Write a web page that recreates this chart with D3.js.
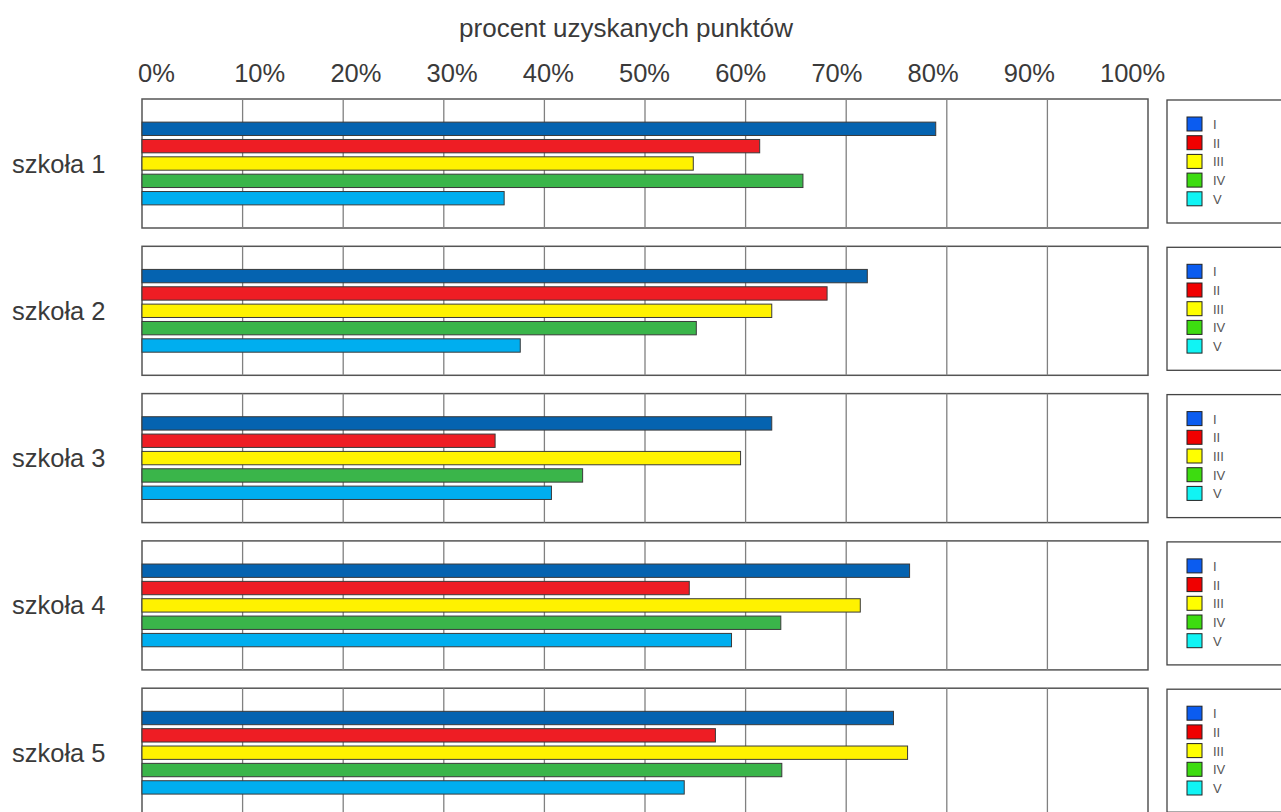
<!DOCTYPE html>
<html>
<head>
<meta charset="utf-8">
<script src="https://cdn.jsdelivr.net/npm/d3@7"></script>
<style>
  body { margin: 0; background: white; }
  svg { display: block; font-family: "Liberation Sans", Arial, sans-serif; }
  text { fill: #3a3a3a; }
</style>
</head>
<body>
<svg id="chart" width="1281" height="812"></svg>
<script>
let schools = ['szkoła 1', 'szkoła 2', 'szkoła 3', 'szkoła 4', 'szkoła 5'];
let groups = ['I', 'II', 'III', 'IV', 'V'];
// percent of points, one array per group, in school order
let valuesI = [78.9, 72.1, 62.6, 76.3, 74.7];
let valuesII = [61.4, 68.1, 35.1, 54.4, 57.0];
let valuesIII = [54.8, 62.6, 59.5, 71.4, 76.1];
let valuesIV = [65.7, 55.1, 43.8, 63.5, 63.6];
let valuesV = [36.0, 37.6, 40.7, 58.6, 53.9];
let tickValues = [0, 10, 20, 30, 40, 50, 60, 70, 80, 90, 100];
let axisTitle = 'procent uzyskanych punktów';

let barColors = ['#0563b0', '#ee1d24', '#fff200', '#3ab54a', '#00aeef'];
let legendColors = ['#0b5cf0', '#f00000', '#ffff00', '#3ddc10', '#10f4f4'];

let seriesValues = [valuesI, valuesII, valuesIII, valuesIV, valuesV];

let svg = d3.select('#chart');

let x = d3.scaleLinear().domain([0, 100]).range([142, 1148]);
// tick labels sit on their own, slightly narrower, left-aligned scale
let xLabel = d3.scaleLinear().domain([0, 100]).range([138, 1100]);

let panelH = 129;
let panelStep = 147.3;
let y = d3.scaleBand()
    .domain(schools)
    .range([99, 99 + 4 * panelStep + panelH])
    .paddingInner(1 - panelH / panelStep)
    .paddingOuter(0);

let barPitch = 17.35;
let yBar = d3.scaleBand()
    .domain(groups)
    .range([panelH / 2 - 2.5 * barPitch, panelH / 2 + 2.5 * barPitch])
    .paddingInner(0.23)
    .paddingOuter(0.115);

svg.append('text')
    .attr('x', 626)
    .attr('y', 37)
    .attr('text-anchor', 'middle')
    .style('font-size', '26px')
    .text(axisTitle);

svg.append('g')
    .selectAll('text')
    .data(tickValues)
    .join('text')
    .attr('x', d => xLabel(d))
    .attr('y', 82)
    .style('font-size', '25.5px')
    .text(d => d + '%');

let panels = svg.selectAll('g.panel')
    .data(schools)
    .join('g')
    .attr('class', 'panel')
    .attr('transform', d => 'translate(0,' + y(d) + ')');

panels.append('rect')
    .attr('x', x(0))
    .attr('y', 0)
    .attr('width', x(100) - x(0))
    .attr('height', y.bandwidth())
    .attr('fill', 'white')
    .attr('stroke', '#555')
    .attr('stroke-width', 1.5);

panels.selectAll('line.grid')
    .data(tickValues.filter(t => t > 0 && t < 100))
    .join('line')
    .attr('class', 'grid')
    .attr('x1', d => x(d))
    .attr('x2', d => x(d))
    .attr('y1', 0)
    .attr('y2', y.bandwidth())
    .attr('stroke', '#808080')
    .attr('stroke-width', 1.3);

// Bars: one per group, values taken from the series arrays by school index.
panels.selectAll('rect.bar')
    .data((school, i) => groups.map((g, j) => ({group: g, idx: j, value: seriesValues[j][i]})))
    .join('rect')
    .attr('class', 'bar')
    .attr('x', x(0))
    .attr('y', d => yBar(d.group))
    .attr('width', d => x(d.value) - x(0))
    .attr('height', yBar.bandwidth())
    .attr('fill', d => barColors[d.idx])
    .attr('stroke', '#3a3a3a')
    .attr('stroke-width', 1);

panels.append('text')
    .attr('x', 12)
    .attr('y', y.bandwidth() / 2 + 9)
    .style('font-size', '25.5px')
    .text(d => d);

// Legend box next to every panel.
let legend = panels.append('g')
    .attr('transform', 'translate(1167,1)');

legend.append('rect')
    .attr('width', 140)
    .attr('height', 123)
    .attr('fill', 'white')
    .attr('stroke', '#444')
    .attr('stroke-width', 1.3);

let legendItems = legend.selectAll('g.item')
    .data(groups)
    .join('g')
    .attr('class', 'item')
    .attr('transform', (d, i) => 'translate(20,' + (17 + i * 18.7) + ')');

legendItems.append('rect')
    .attr('width', 15)
    .attr('height', 14)
    .attr('fill', (d, i) => legendColors[i])
    .attr('stroke', '#222')
    .attr('stroke-width', 1);

legendItems.append('text')
    .attr('x', 26)
    .attr('y', 12)
    .style('font-size', '13px')
    .style('fill', '#555')
    .text(d => d);
</script>
</body>
</html>
